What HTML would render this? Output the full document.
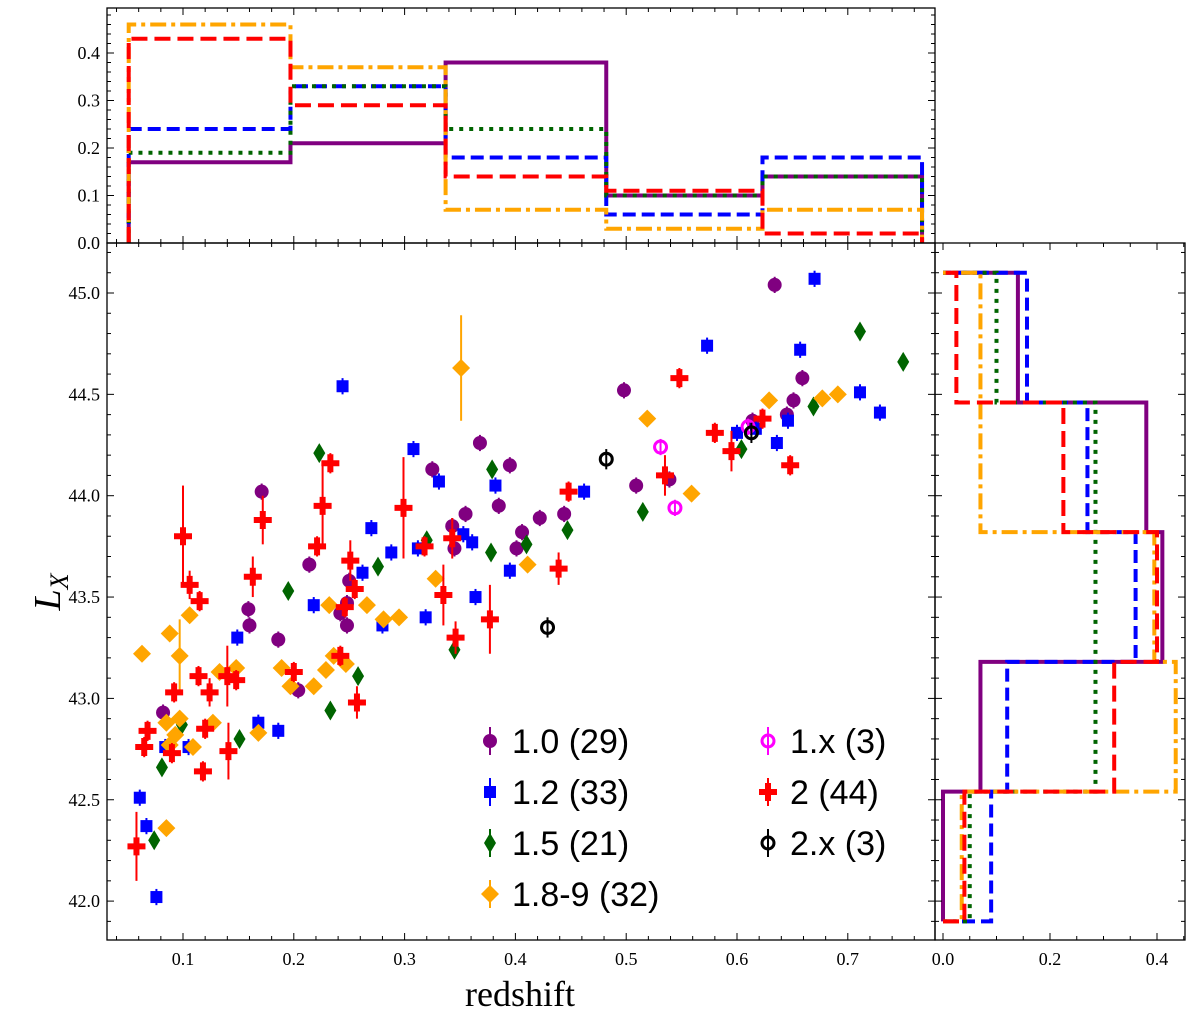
<!DOCTYPE html>
<html><head><meta charset="utf-8">
<style>
html,body{margin:0;padding:0;background:#fff;}
svg{display:block;}
.tick{font-family:"Liberation Serif","DejaVu Serif",serif;font-size:18px;fill:#000;}
.leg{font-family:"Liberation Sans","DejaVu Sans",sans-serif;font-size:34px;fill:#000;}
</style></head>
<body>
<svg id="chart" width="1200" height="1015" viewBox="0 0 1200 1015" xmlns="http://www.w3.org/2000/svg">
<defs>
<clipPath id="mainclip"><rect x="107" y="243" width="828" height="697"/></clipPath>
<clipPath id="topclip"><rect x="107" y="8" width="828" height="235"/></clipPath>
<clipPath id="rightclip"><rect x="935" y="243" width="250" height="697"/></clipPath>
</defs>
<g id="top-hist"></g>
<g id="right-hist"></g>
<g id="main"></g>
<text x="520" y="1006" text-anchor="middle" style="font-family:'Liberation Serif',serif;font-size:36px">redshift</text>
<text x="0" y="0" transform="translate(60,592) rotate(-90)" text-anchor="middle" style="font-family:'Liberation Serif',serif;font-size:38px;font-style:italic">L<tspan dy="8" font-size="26">X</tspan></text>
<g id="legend"></g>
</svg>
<script>
// ---------- data ----------
const seriesNames = ["1.0 (29)","1.2 (33)","1.5 (21)","1.8-9 (32)","1.x (3)","2 (44)","2.x (3)"];
const purpleZ=[0.082,0.171,0.159,0.160,0.186,0.204,0.214,0.242,0.248,0.250,0.248,0.325,0.343,0.345,0.355,0.368,0.385,0.395,0.401,0.406,0.422,0.444,0.498,0.509,0.539,0.634,0.645,0.651,0.659,0.614];
const purpleL=[42.93,44.02,43.44,43.36,43.29,43.04,43.66,43.42,43.47,43.58,43.36,44.13,43.85,43.74,43.91,44.26,43.95,44.15,43.74,43.82,43.89,43.91,44.52,44.05,44.08,45.04,44.40,44.47,44.58,44.37];
const blueZ=[0.061,0.067,0.076,0.084,0.105,0.149,0.168,0.186,0.218,0.244,0.262,0.270,0.280,0.288,0.308,0.319,0.331,0.312,0.353,0.361,0.364,0.382,0.395,0.462,0.573,0.600,0.617,0.636,0.657,0.646,0.670,0.711,0.729];
const blueL=[42.51,42.37,42.02,42.76,42.76,43.30,42.88,42.84,43.46,44.54,43.62,43.84,43.36,43.72,44.23,43.40,44.07,43.74,43.81,43.77,43.50,44.05,43.63,44.02,44.74,44.31,44.33,44.26,44.72,44.37,45.07,44.51,44.41];
const greenZ=[0.074,0.081,0.099,0.151,0.195,0.223,0.233,0.258,0.276,0.320,0.345,0.379,0.378,0.410,0.447,0.515,0.604,0.669,0.711,0.750];
const greenL=[42.30,42.66,42.87,42.80,43.53,44.21,42.94,43.11,43.65,43.78,43.24,44.13,43.72,43.76,43.83,43.92,44.23,44.44,44.81,44.66];
const orangeZ=[0.063,0.085,0.085,0.088,0.093,0.097,0.088,0.097,0.106,0.109,0.127,0.133,0.148,0.168,0.189,0.197,0.218,0.229,0.232,0.236,0.247,0.266,0.281,0.295,0.328,0.351,0.411,0.519,0.559,0.629,0.677,0.691];
const orangeL=[43.22,42.36,42.88,42.77,42.82,42.90,43.32,43.21,43.41,42.76,42.88,43.13,43.15,42.83,43.15,43.06,43.06,43.14,43.46,43.21,43.17,43.46,43.39,43.40,43.59,44.63,43.66,44.38,44.01,44.47,44.48,44.50];
const orangeErr=[0,0,0,0,0,0,0,0.18,0,0,0,0,0,0,0,0,0,0,0,0,0,0,0,0,0,0.26,0,0,0,0,0,0];
const magZ=[0.531,0.544,0.610];
const magL=[44.24,43.94,44.34];
const redZ=[0.058,0.065,0.068,0.090,0.092,0.100,0.106,0.115,0.114,0.118,0.120,0.124,0.140,0.141,0.148,0.163,0.172,0.200,0.221,0.226,0.233,0.242,0.246,0.251,0.255,0.257,0.299,0.318,0.335,0.343,0.346,0.377,0.439,0.448,0.535,0.548,0.580,0.595,0.623,0.648];
const redL=[42.27,42.76,42.84,42.73,43.03,43.80,43.56,43.48,43.11,42.64,42.85,43.03,43.11,42.74,43.09,43.60,43.88,43.13,43.75,43.95,44.16,43.21,43.45,43.68,43.54,42.98,43.94,43.75,43.51,43.79,43.30,43.39,43.64,44.02,44.10,44.58,44.31,44.22,44.38,44.15];
const redErr=[0.17,0.05,0.05,0.05,0.05,0.25,0.07,0.05,0.05,0.05,0.05,0.07,0.15,0.14,0.05,0.1,0.12,0.05,0.05,0.2,0.05,0.05,0.05,0.1,0.05,0.08,0.25,0.05,0.15,0.1,0.08,0.17,0.08,0.05,0.1,0.05,0.05,0.1,0.05,0.05];
const blackZ=[0.429,0.482,0.613];
const blackL=[43.35,44.18,44.31];
const topEdges=[0.051,0.197,0.337,0.482,0.623,0.767];
const topPurple=[0.17,0.21,0.38,0.10,0.14];
const topBlue=[0.24,0.33,0.18,0.06,0.18];
const topGreen=[0.19,0.33,0.24,0.10,0.14];
const topOrange=[0.46,0.37,0.07,0.03,0.07];
const topRed=[0.43,0.29,0.14,0.11,0.02];
const rightEdges=[41.9,42.54,43.18,43.82,44.46,45.10];
const rightPurple=[0.0,0.07,0.41,0.38,0.14];
const rightBlue=[0.09,0.12,0.36,0.27,0.157];
const rightGreen=[0.05,0.285,0.285,0.285,0.10];
const rightOrange=[0.035,0.435,0.395,0.07,0.07];
const rightRed=[0.04,0.32,0.40,0.225,0.025];
const xTicks=[0.1,0.2,0.3,0.4,0.5,0.6,0.7];
const yTicks=[42.0,42.5,43.0,43.5,44.0,44.5,45.0];
const topTicks=[0.0,0.1,0.2,0.3,0.4];
const rightTicks=[0.0,0.2,0.4];

// ---------- scales ----------
const X=z=>183+(z-0.1)*1108;
const Y=l=>293+(45-l)*202.7;
const TY=v=>243-v*475;
const RX=v=>943+v*535;
const NS="http://www.w3.org/2000/svg";
function mk(tag,attrs,parent){const e=document.createElementNS(NS,tag);for(const k in attrs)e.setAttribute(k,attrs[k]);parent.appendChild(e);return e;}
const colors={purple:"#800080",blue:"#0000ff",green:"#006400",orange:"#ffa500",red:"#ff0000",mag:"#ff00ff",black:"#000"};
const styles={purple:"none",blue:"13,6",green:"4,6",orange:"16,5,4,5",red:"16,7"};

// ---------- top histogram ----------
const topEl=document.getElementById('top-hist');
const topG=mk('g',{'clip-path':'url(#topclip)'},topEl);
[["purple",topPurple],["blue",topBlue],["green",topGreen],["orange",topOrange],["red",topRed]].forEach(([c,v])=>{
  let d=`M${X(topEdges[0])},${TY(0)}`;
  v.forEach((h,i)=>{d+=` L${X(topEdges[i])},${TY(h)} L${X(topEdges[i+1])},${TY(h)}`;});
  d+=` L${X(topEdges[5])},${TY(0)}`;
  const p=mk('path',{d:d,fill:'none',stroke:colors[c],'stroke-width':4,'stroke-dasharray':styles[c]},topG);
  
  
});
mk('rect',{x:107,y:8,width:828,height:235,fill:'none',stroke:'#000','stroke-width':1.3},topEl);
topTicks.forEach(t=>{
  mk('line',{x1:107,x2:114,y1:TY(t),y2:TY(t),stroke:'#000'},topEl);
  mk('line',{x1:935,x2:928,y1:TY(t),y2:TY(t),stroke:'#000'},topEl);
  const tx=mk('text',{x:100,y:TY(t)+6,'text-anchor':'end',class:'tick'},topEl);tx.textContent=t.toFixed(1);
  
  
});
for(let v=0.02;v<0.49;v+=0.02){mk('line',{x1:107,x2:111,y1:TY(v),y2:TY(v),stroke:'#000'},topEl);mk('line',{x1:935,x2:931,y1:TY(v),y2:TY(v),stroke:'#000'},topEl);}
for(let z=0.04;z<0.78;z+=0.02){const len=Math.abs(Math.round(z*100)%10)<0.5?7:4;mk('line',{x1:X(z),x2:X(z),y1:243,y2:243-len,stroke:'#000'},topEl);mk('line',{x1:X(z),x2:X(z),y1:8,y2:8+len,stroke:'#000'},topEl);}

// ---------- right histogram ----------
const rightEl=document.getElementById('right-hist');
const rG=mk('g',{'clip-path':'url(#rightclip)'},rightEl);
[["purple",rightPurple],["blue",rightBlue],["green",rightGreen],["orange",rightOrange],["red",rightRed]].forEach(([c,v])=>{
  let d=`M${RX(0)},${Y(rightEdges[0])}`;
  v.forEach((h,i)=>{d+=` L${RX(h)},${Y(rightEdges[i])} L${RX(h)},${Y(rightEdges[i+1])}`;});
  d+=` L${RX(0)},${Y(rightEdges[5])}`;
  const p=mk('path',{d:d,fill:'none',stroke:colors[c],'stroke-width':4,'stroke-dasharray':styles[c]},rG);
  
  
});
mk('rect',{x:935,y:243,width:250,height:697,fill:'none',stroke:'#000','stroke-width':1.3},rightEl);
rightTicks.forEach(t=>{
  mk('line',{x1:RX(t),x2:RX(t),y1:940,y2:933,stroke:'#000'},rightEl);
  mk('line',{x1:RX(t),x2:RX(t),y1:243,y2:250,stroke:'#000'},rightEl);
  const tx=mk('text',{x:RX(t),y:965,'text-anchor':'middle',class:'tick'},rightEl);tx.textContent=t.toFixed(1);
  
  
});
for(let v=0.05;v<0.45;v+=0.05){mk('line',{x1:RX(v),x2:RX(v),y1:940,y2:936,stroke:'#000'},rightEl);mk('line',{x1:RX(v),x2:RX(v),y1:243,y2:247,stroke:'#000'},rightEl);}
for(let l=41.9;l<45.25;l+=0.1){const maj=Math.abs(l*2-Math.round(l*2))<0.01;const len=maj?7:4;mk('line',{x1:935,x2:935+len,y1:Y(l),y2:Y(l),stroke:'#000'},rightEl);mk('line',{x1:1185,x2:1185-len,y1:Y(l),y2:Y(l),stroke:'#000'},rightEl);}

// ---------- main scatter ----------
const mainEl=document.getElementById('main');
const mG=mk('g',{'clip-path':'url(#mainclip)'},mainEl);
function marker(g,type,cx,cy,col){
  let e;
  if(type==='circle')e=mk('circle',{cx:cx,cy:cy,r:7,fill:col},g);
  else if(type==='square')e=mk('rect',{x:cx-6,y:cy-6,width:12,height:12,fill:col},g);
  else if(type==='thin')e=mk('path',{d:`M${cx},${cy-10} L${cx+6},${cy} L${cx},${cy+10} L${cx-6},${cy} Z`,fill:col},g);
  else if(type==='diamond')e=mk('path',{d:`M${cx},${cy-9} L${cx+9},${cy} L${cx},${cy+9} L${cx-9},${cy} Z`,fill:col},g);
  else if(type==='plus')e=mk('path',{d:`M${cx-3},${cy-9}h6v6h6v6h-6v6h-6v-6h-6v-6h6z`,fill:col},g);
  else if(type==='ring')e=mk('circle',{cx:cx,cy:cy,r:6,fill:'none',stroke:col,'stroke-width':3},g);
  return e;
}
function drawSeries(name,zs,ls,errs,type,col){
  const g=mk('g',{},mG);
  
  
  zs.forEach((z,i)=>{
    const cx=X(z),cy=Y(ls[i]);const er=errs?errs[i]:0.04;
    if(er>0)mk('line',{x1:cx,x2:cx,y1:Y(ls[i]+er),y2:Y(ls[i]-er),stroke:col,'stroke-width':2},g);
    const m=marker(g,type,cx,cy,col);
    
    
  });
}
drawSeries('type-1-0',purpleZ,purpleL,null,'circle',colors.purple);
drawSeries('type-1-2',blueZ,blueL,null,'square',colors.blue);
drawSeries('type-1-5',greenZ,greenL,null,'thin',colors.green);
drawSeries('type-1-8-9',orangeZ,orangeL,orangeErr,'diamond',colors.orange);
drawSeries('type-1-x',magZ,magL,null,'ring',colors.mag);
drawSeries('type-2',redZ,redL,redErr,'plus',colors.red);
drawSeries('type-2-x',blackZ,blackL,[0.05,0.05,0.05],'ring',colors.black);
mk('rect',{x:107,y:243,width:828,height:697,fill:'none',stroke:'#000','stroke-width':1.3},mainEl);
xTicks.forEach(t=>{
  const tx=mk('text',{x:X(t),y:965,'text-anchor':'middle',class:'tick'},mainEl);tx.textContent=t.toFixed(1);
  
  
});
for(let z=0.04;z<0.78;z+=0.02){const len=Math.abs(Math.round(z*100)%10)<0.5?7:4;mk('line',{x1:X(z),x2:X(z),y1:940,y2:940-len,stroke:'#000'},mainEl);mk('line',{x1:X(z),x2:X(z),y1:243,y2:243+len,stroke:'#000'},mainEl);}
yTicks.forEach(t=>{
  const tx=mk('text',{x:100,y:Y(t)+6,'text-anchor':'end',class:'tick'},mainEl);tx.textContent=t.toFixed(1);
  
  
});
for(let l=41.9;l<45.25;l+=0.1){const maj=Math.abs(l*2-Math.round(l*2))<0.01;const len=maj?7:4;mk('line',{x1:107,x2:107+len,y1:Y(l),y2:Y(l),stroke:'#000'},mainEl);mk('line',{x1:935,x2:935-len,y1:Y(l),y2:Y(l),stroke:'#000'},mainEl);}

// ---------- legend ----------
const legEl=document.getElementById('legend');
const legTypes=[['circle',colors.purple,490,741],['square',colors.blue,490,792],['thin',colors.green,490,843],['diamond',colors.orange,490,894],['ring',colors.mag,768,741],['plus',colors.red,768,792],['ring',colors.black,768,843]];
legTypes.forEach((t,i)=>{
  const g=mk('g',{},legEl);
  
  
  mk('line',{x1:t[2],x2:t[2],y1:t[3]-14,y2:t[3]+14,stroke:t[1],'stroke-width':2},g);
  marker(g,t[0],t[2],t[3],t[1]);
  const tx=mk('text',{x:t[2]+22,y:t[3]+12,class:'leg'},g);tx.textContent=seriesNames[i];
});
</script>
</body></html>
